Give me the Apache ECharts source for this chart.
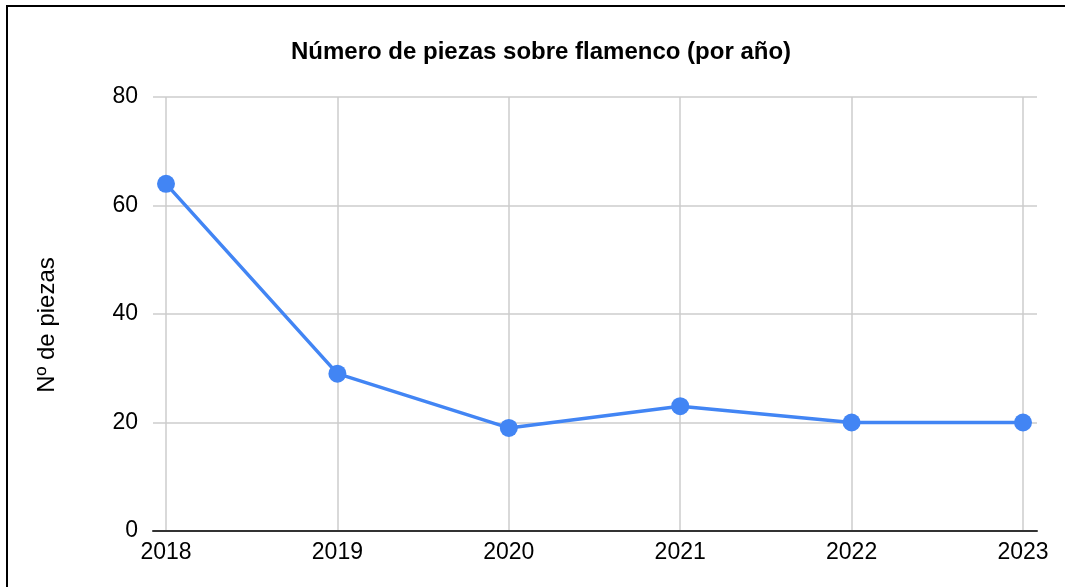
<!DOCTYPE html>
<html lang="es">
  <head>
    <meta charset="utf-8" />
    <title>Número de piezas sobre flamenco</title>
    <script type="text/javascript" src="https://cdn.jsdelivr.net/npm/echarts@6/dist/echarts.min.js"></script>
    <style>
      html, body { margin: 0; padding: 0; background: #fff; }
      #chart { width: 1065px; height: 587px; }
      #frame {
        position: absolute; left: 6px; top: 5px; right: 0; bottom: 0;
        border-left: 2px solid #000; border-top: 2px solid #000;
        pointer-events: none;
      }
    </style>
  </head>
  <body>
    <div id="chart"></div>
    <div id="frame"></div>
    <script>
      var years = ['2018', '2019', '2020', '2021', '2022', '2023']
      var piezas = [64, 29, 19, 23, 20, 20]

      var font = 'Liberation Sans, Arial, sans-serif'
      var chart = echarts.init(document.getElementById('chart'))

      chart.setOption({
        animation: false,
        title: {
          text: 'Número de piezas sobre flamenco (por año)',
          left: 286,
          top: 35,
          textStyle: { fontFamily: font, fontSize: 24, fontWeight: 'bold', color: '#000' }
        },
        // grid 0 holds the wider horizontal gridlines and the zero line, grid 1 the data
        grid: [
          { left: 153, right: 28, top: 97, bottom: 56 },
          { left: 166, right: 42, top: 97, bottom: 56 }
        ],
        xAxis: [
          {
            gridIndex: 0,
            type: 'category',
            data: [''],
            axisLine: { lineStyle: { color: '#333', width: 2 } },
            axisTick: { show: false },
            axisLabel: { show: false },
            splitLine: { show: false }
          },
          {
            gridIndex: 1,
            type: 'category',
            data: years,
            boundaryGap: false,
            axisLine: { show: false },
            axisTick: { show: false },
            axisLabel: { margin: 10, fontFamily: font, fontSize: 23, color: '#000' },
            splitLine: { show: true, lineStyle: { color: '#ccc', width: 1.5 } }
          }
        ],
        yAxis: [
          {
            gridIndex: 0,
            type: 'value',
            min: 0,
            max: 80,
            interval: 20,
            name: 'Nº de piezas',
            nameLocation: 'middle',
            nameRotate: 90,
            nameGap: 94,
            nameTextStyle: { fontFamily: font, fontSize: 24, color: '#000', padding: [0, 22, 0, 0] },
            axisLine: { show: false },
            axisTick: { show: false },
            axisLabel: { margin: 15, fontFamily: font, fontSize: 23, color: '#000' },
            splitLine: { lineStyle: { color: '#ccc', width: 1.5 } }
          },
          {
            gridIndex: 1,
            type: 'value',
            min: 0,
            max: 80,
            interval: 20,
            show: false
          }
        ],
        series: [
          {
            type: 'line',
            xAxisIndex: 1,
            yAxisIndex: 1,
            data: piezas,
            symbol: 'circle',
            symbolSize: 18,
            itemStyle: { color: '#4285f4' },
            lineStyle: { color: '#4285f4', width: 3.5 }
          }
        ]
      })
    </script>
  </body>
</html>
